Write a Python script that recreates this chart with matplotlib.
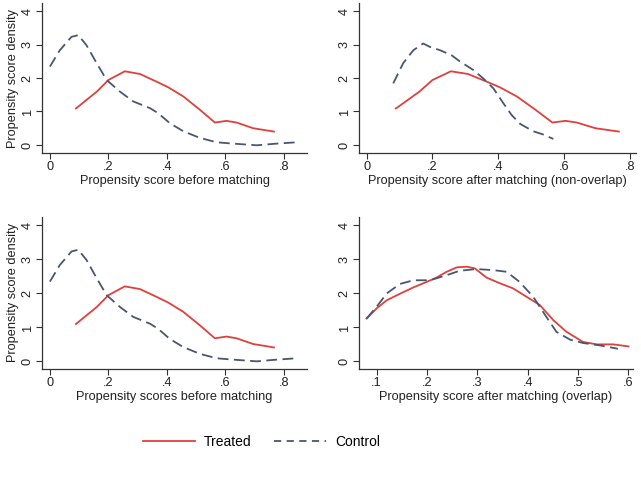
import matplotlib
matplotlib.use("Agg")
import matplotlib.pyplot as plt
from matplotlib.lines import Line2D

plt.rcParams['font.family'] = ['Liberation Sans', 'DejaVu Sans']

# Kernel density curves
# before matching (same for both left panels)
treated_before_x = [0.089, 0.16, 0.20, 0.256, 0.308, 0.365, 0.405, 0.456, 0.513,
                    0.564, 0.604, 0.638, 0.695, 0.766]
treated_before_y = [1.09, 1.59, 1.94, 2.20, 2.12, 1.89, 1.72, 1.45, 1.05,
                    0.67, 0.72, 0.67, 0.50, 0.40]
control_before_x = [0.0, 0.034, 0.074, 0.097, 0.125, 0.16, 0.194, 0.24, 0.285, 0.342,
                    0.37, 0.41, 0.456, 0.513, 0.57, 0.627, 0.707, 0.775, 0.843]
control_before_y = [2.34, 2.83, 3.23, 3.28, 2.98, 2.44, 1.94, 1.59, 1.30, 1.10,
                    0.95, 0.65, 0.41, 0.21, 0.08, 0.04, -0.01, 0.04, 0.08]

# after matching, non-overlap (treated curve unchanged)
control_nonoverlap_x = [0.081, 0.111, 0.142, 0.172, 0.192, 0.223, 0.258, 0.284, 0.324,
                        0.354, 0.385, 0.415, 0.44, 0.466, 0.506, 0.537, 0.567]
control_nonoverlap_y = [1.84, 2.44, 2.83, 3.03, 2.93, 2.83, 2.68, 2.49, 2.24,
                        1.99, 1.69, 1.25, 0.90, 0.63, 0.41, 0.31, 0.18]

# after matching, overlap
treated_overlap_x = [0.080, 0.10, 0.12, 0.146, 0.173, 0.199, 0.219, 0.239, 0.259, 0.279,
                     0.295, 0.318, 0.345, 0.371, 0.398, 0.424, 0.451, 0.477, 0.51,
                     0.537, 0.57, 0.60]
treated_overlap_y = [1.25, 1.55, 1.79, 1.98, 2.17, 2.33, 2.46, 2.63, 2.76, 2.78,
                     2.73, 2.46, 2.29, 2.14, 1.89, 1.65, 1.20, 0.86, 0.56,
                     0.49, 0.49, 0.43]
control_overlap_x = [0.080, 0.10, 0.12, 0.146, 0.173, 0.206, 0.239, 0.265, 0.298, 0.331,
                     0.358, 0.384, 0.411, 0.437, 0.457, 0.484, 0.51, 0.543, 0.579]
control_overlap_y = [1.25, 1.60, 1.99, 2.27, 2.38, 2.38, 2.53, 2.66, 2.71, 2.68,
                     2.63, 2.33, 1.89, 1.30, 0.86, 0.63, 0.53, 0.46, 0.36]

wide_ticks = [0, 0.2, 0.4, 0.6, 0.8]
wide_labels = ['0', '.2', '.4', '.6', '.8']
overlap_ticks = [0.1, 0.2, 0.3, 0.4, 0.5, 0.6]
overlap_labels = ['.1', '.2', '.3', '.4', '.5', '.6']
y_ticks = [0, 1, 2, 3, 4]

red = '#e0403c'
navy = '#4a5570'
fs = 9.2

W, H = 641, 500
fig = plt.figure(figsize=(W / 100, H / 100), dpi=100)


def px_axes(l, r, t, b):
    return fig.add_axes([l / W, 1 - b / H, (r - l) / W, (b - t) / H])


def style(ax, xlim, ylim, xticks, xlabels, xlabel, ylabel=None):
    ax.set_xlim(*xlim)
    ax.set_ylim(*ylim)
    for s in ['top', 'right']:
        ax.spines[s].set_visible(False)
    for s in ['left', 'bottom']:
        ax.spines[s].set_linewidth(0.9)
        ax.spines[s].set_color('#333333')
    ax.set_xticks(xticks)
    ax.set_xticklabels(xlabels)
    ax.set_yticks(y_ticks)
    ax.set_yticklabels([str(v) for v in y_ticks], rotation=90, va='center')
    ax.tick_params(labelsize=fs, length=4, width=0.8, color='#333333',
                   labelcolor='#222222', pad=2)
    ax.set_xlabel(xlabel, fontsize=fs, color='#222222', labelpad=1)
    if ylabel:
        ax.set_ylabel(ylabel, fontsize=fs, color='#222222', labelpad=2)


lw = 1.3
dash = (0, (6, 3))

ax1 = px_axes(42, 307, 3, 153)
ax1.plot(treated_before_x, treated_before_y, color=red, lw=lw)
ax1.plot(control_before_x, control_before_y, color=navy, lw=lw, linestyle=dash)
style(ax1, (-0.027, 0.879), (-0.24, 4.24), wide_ticks, wide_labels,
      'Propensity score before matching', 'Propensity score density')

ax2 = px_axes(359, 636, 3, 153)
ax2.plot(treated_before_x, treated_before_y, color=red, lw=lw)
ax2.plot(control_nonoverlap_x, control_nonoverlap_y, color=navy, lw=lw, linestyle=dash)
style(ax2, (-0.023, 0.818), (-0.24, 4.24), wide_ticks, wide_labels,
      'Propensity score after matching (non-overlap)')

ax3 = px_axes(42, 307, 217, 369)
ax3.plot(treated_before_x, treated_before_y, color=red, lw=lw)
ax3.plot(control_before_x, control_before_y, color=navy, lw=lw, linestyle=dash)
style(ax3, (-0.027, 0.879), (-0.236, 4.245), wide_ticks, wide_labels,
      'Propensity scores before matching', 'Propensity score density')

ax4 = px_axes(359, 633, 217, 369)
ax4.plot(treated_overlap_x, treated_overlap_y, color=red, lw=lw)
ax4.plot(control_overlap_x, control_overlap_y, color=navy, lw=lw, linestyle=dash)
style(ax4, (0.065, 0.609), (-0.236, 4.245), overlap_ticks, overlap_labels,
      'Propensity score after matching (overlap)')

handles = [Line2D([], [], color=red, lw=lw),
           Line2D([], [], color=navy, lw=lw, linestyle=(0, (4, 3)))]
fig.legend(handles, ['Treated', 'Control'], loc='center',
           bbox_to_anchor=(261.5 / W, 1 - 442 / H), ncol=2, frameon=False,
           fontsize=10, handlelength=3.75, handletextpad=0.65, columnspacing=1.65)

fig.savefig('out.png', dpi=100, facecolor='white')
